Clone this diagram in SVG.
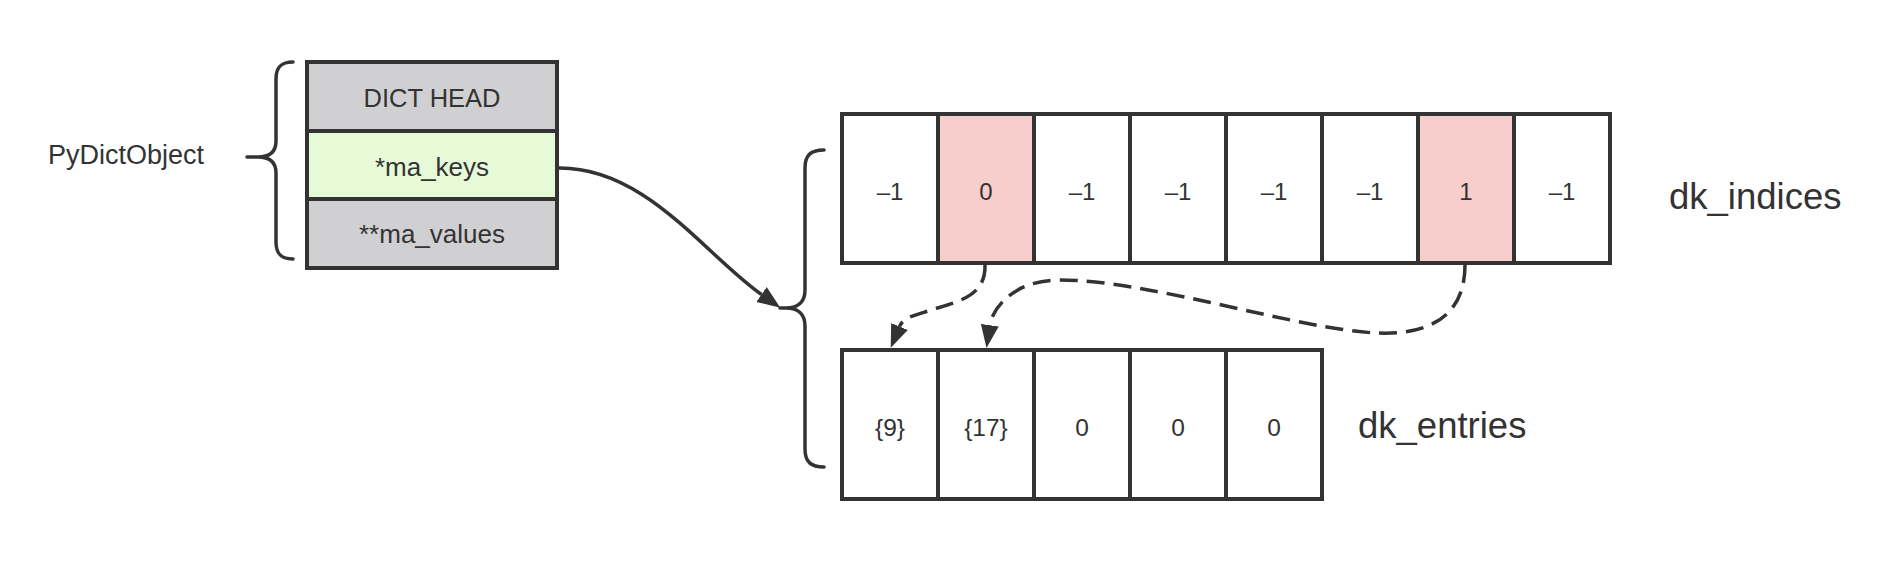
<svg xmlns="http://www.w3.org/2000/svg" width="1886" height="564" viewBox="0 0 1886 564">
<style>
.cell{stroke:#333;stroke-width:4;fill:#fff}
.hl{fill:#f8cecc}
.gray{fill:#d0d0d2}
.green{fill:#e7fad8}
.t{font-family:"Liberation Sans",Arial,sans-serif;fill:#333;text-anchor:middle}
.lbl{font-family:"Liberation Sans",Arial,sans-serif;fill:#333}
.brace{fill:none;stroke:#333;stroke-width:3.5;stroke-linecap:round;stroke-linejoin:round}
.conn{fill:none;stroke:#333;stroke-width:3.5}
.dash{stroke-dasharray:18 9}
</style>
<defs>
<marker id="ah" markerWidth="26" markerHeight="20" refX="0" refY="9" orient="auto" markerUnits="userSpaceOnUse">
<path d="M0,0 L23,9 L0,18 Z" fill="#333"/>
</marker>
</defs>
<rect width="1886" height="564" fill="#fff"/>

<g id="pydictobject-label">
<text class="lbl" x="48" y="164" font-size="27">PyDictObject</text>
</g>
<g id="brace-left">
<path class="brace" d="M293 62 C281 62 276 67 276 79 L276 141 C276 152 270 157 258 157 L247 157 L258 157 C270 157 276 162 276 173 L276 242 C276 254 281 259 293 259"/>
</g>

<g id="dict-head">
<rect class="cell gray" x="307" y="62" width="250" height="69"/>
<text class="t" x="432" y="107" font-size="25.5">DICT HEAD</text>
</g>
<g id="ma-keys">
<rect class="cell green" x="307" y="131" width="250" height="68"/>
<text class="t" x="432" y="176" font-size="26">*ma_keys</text>
</g>
<g id="ma-values">
<rect class="cell gray" x="307" y="199" width="250" height="69"/>
<text class="t" x="432" y="243" font-size="26">**ma_values</text>
</g>

<g id="brace-right">
<path class="brace" d="M824 150 C811 150 805 155 805 168 L805 290 C805 302 798 308 786 308 L780 308 L786 308 C798 308 805 314 805 326 L805 449 C805 462 811 467 824 467"/>
</g>

<g id="dk-indices">
<rect class="cell" x="842" y="114" width="96" height="149"/>
<rect class="cell hl" x="938" y="114" width="96" height="149"/>
<rect class="cell" x="1034" y="114" width="96" height="149"/>
<rect class="cell" x="1130" y="114" width="96" height="149"/>
<rect class="cell" x="1226" y="114" width="96" height="149"/>
<rect class="cell" x="1322" y="114" width="96" height="149"/>
<rect class="cell hl" x="1418" y="114" width="96" height="149"/>
<rect class="cell" x="1514" y="114" width="96" height="149"/>
<g font-size="24">
<text class="t" x="890" y="200">–1</text>
<text class="t" x="986" y="200">0</text>
<text class="t" x="1082" y="200">–1</text>
<text class="t" x="1178" y="200">–1</text>
<text class="t" x="1274" y="200">–1</text>
<text class="t" x="1370" y="200">–1</text>
<text class="t" x="1466" y="200">1</text>
<text class="t" x="1562" y="200">–1</text>
</g>
</g>
<g id="dk-indices-label">
<text class="lbl" x="1669" y="209" font-size="36.5">dk_indices</text>
</g>

<g id="dk-entries">
<rect class="cell" x="842" y="350" width="96" height="149"/>
<rect class="cell" x="938" y="350" width="96" height="149"/>
<rect class="cell" x="1034" y="350" width="96" height="149"/>
<rect class="cell" x="1130" y="350" width="96" height="149"/>
<rect class="cell" x="1226" y="350" width="96" height="149"/>
<g font-size="24.5">
<text class="t" x="890" y="436">{9}</text>
<text class="t" x="986" y="436">{17}</text>
<text class="t" x="1082" y="436">0</text>
<text class="t" x="1178" y="436">0</text>
<text class="t" x="1274" y="436">0</text>
</g>
</g>
<g id="dk-entries-label">
<text class="lbl" x="1358" y="438" font-size="36.5">dk_entries</text>
</g>

<g id="connectors">
<path class="conn" marker-end="url(#ah)" d="M557 168 C645 166 705 255 761.5 294.5"/>
<path class="conn dash" marker-end="url(#ah)" d="M985 265 C986 298 955 302 928 311 C912 316 903 318 899.5 326.5"/>
<path class="conn dash" marker-end="url(#ah)" d="M1465 265 C1465 320 1424 335 1377 333 C1300 330 1150 280 1060 280 C1012 280 992 310 989.8 325.2"/>
</g>
</svg>
